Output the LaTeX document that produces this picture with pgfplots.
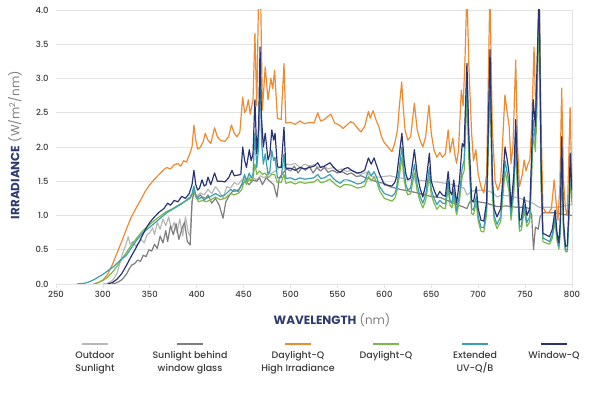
\documentclass[border=0pt]{standalone}
\usepackage{pgfplots}
\pgfplotsset{compat=1.18}
\usepackage{fontspec}
\setmainfont{Poppins}
\newfontfamily\medfont{Poppins Medium}
\definecolor{cOrange}{HTML}{EE8A2F}
\definecolor{cGreen}{HTML}{7DB94A}
\definecolor{cTeal}{HTML}{3A9FAE}
\definecolor{cNavy}{HTML}{2B3473}
\definecolor{cLGray}{HTML}{B8B8B8}
\definecolor{cDGray}{HTML}{7E7E7E}
\definecolor{cLabel}{HTML}{2E3B6E}
\definecolor{cGrid}{HTML}{E3E3E3}
\definecolor{cTick}{HTML}{3A3A3A}
\begin{document}
\begin{tikzpicture}
\begin{axis}[
  at={(0,0)}, anchor=south west,
  scale only axis, width=516bp, height=274bp,
  xmin=250, xmax=800, ymin=0, ymax=4,
  xtick={250,300,...,800}, ytick={0,0.5,...,4},
  /pgf/number format/assume math mode=true,
  yticklabel style={/pgf/number format/fixed,/pgf/number format/precision=1,/pgf/number format/fixed zerofill},
  ticklabel style={font=\medfont\fontsize{8.5}{10}\selectfont, text=cTick},
  axis line style={draw=none},
  ymajorgrids, major grid style={draw=cGrid, line width=0.8pt},
  xtick pos=left, tick align=outside, major tick length=4bp,
  x tick style={draw=cGrid, line width=0.8pt},
  y tick style={draw=none},
  extra x ticks={800}, extra x tick labels={},
  extra x tick style={grid=major, major grid style={draw=cGrid, line width=0.8pt}, tick style={draw=none}},
  xlabel={{\bfseries\color{cLabel}WAVELENGTH} {\color{gray}(nm)}},
  x label style={at={(axis description cs:0.535,-0.1314)}, anchor=center, font=\fontsize{12}{14}\selectfont},
  ylabel={{\bfseries\color{cLabel}IRRADIANCE} {\color{gray}(W/m\textsuperscript{2}/nm)}},
  y label style={at={(axis description cs:-0.0795,0.507)}, anchor=center, font=\fontsize{12}{14}\selectfont},
  every axis plot/.append style={line width=1.2pt, line join=round},
]
% Outdoor Sunlight
\addplot[cLGray] coordinates {
(300,0) (305,0.01) (310,0.05) (315,0.15) (318,0.3) (321,0.45) (324,0.55) (327,0.69) (329,0.58) (332,0.62) (335,0.55) (338,0.6) (341,0.65) (344,0.6) (347,0.72) (350,0.75) (353,0.82) (355,0.72) (358,0.9) (361,0.8) (364,0.95) (367,0.85) (370,0.98) (373,0.8) (376,0.9) (379,0.75) (382,0.95) (385,0.7) (388,0.98) (391,0.75) (393,0.7) (395,1.2) (397,1.35) (400,1.28) (404,1.33) (408,1.3) (412,1.38) (416,1.32) (420,1.42) (424,1.35) (428,1.25) (432,1.42) (436,1.4) (440,1.48) (444,1.45) (448,1.52) (452,1.55) (456,1.5) (460,1.55) (464,1.52) (468,1.58) (472,1.55) (476,1.6) (480,1.62) (484,1.65) (488,1.7) (492,1.72) (496,1.75) (500,1.74) (505,1.76) (510,1.7) (515,1.75) (520,1.72) (525,1.74) (530,1.7) (535,1.72) (540,1.68) (545,1.7) (550,1.66) (555,1.68) (560,1.64) (565,1.66) (570,1.62) (575,1.6) (580,1.63) (585,1.58) (590,1.56) (595,1.56) (600,1.57) (606,1.58) (612,1.56) (617,1.55) (625,1.52) (635,1.52) (649,1.5) (660,1.48) (670,1.46) (680,1.42) (685,1.4) (688,1.3) (691,1.33) (695,1.36) (702,1.37) (710,1.36) (716,1.33) (720,1.27) (725,1.3) (735,1.28) (745,1.25) (758,1.18) (765,1.12) (773,1.12) (785,1.12) (792,1.14) (800,1.16)
};
% Sunlight behind window glass
\addplot[cDGray] coordinates {
(310,0) (315,0.02) (320,0.06) (325,0.14) (328,0.22) (331,0.28) (334,0.3) (337,0.35) (340,0.33) (343,0.42) (346,0.4) (349,0.5) (352,0.48) (355,0.58) (358,0.52) (361,0.7) (364,0.6) (367,0.78) (369,0.62) (372,0.85) (375,0.72) (378,0.88) (381,0.65) (384,0.8) (387,0.9) (390,0.62) (393,0.57) (395,1.2) (397,1.35) (400,1.25) (404,1.3) (408,1.22) (412,1.3) (416,1.18) (420,1.25) (424,1.15) (428,0.96) (431,1.2) (435,1.3) (440,1.38) (444,1.35) (448,1.45) (452,1.5) (456,1.45) (460,1.52) (464,1.5) (467,1.55) (470,1.45) (474,1.55) (478,1.5) (482,1.45) (485.5,1.27) (488,1.55) (492,1.62) (496,1.68) (500,1.65) (504,1.72) (508,1.62) (512,1.7) (516,1.66) (520,1.72) (524,1.62) (528,1.7) (532,1.65) (536,1.7) (540,1.63) (545,1.66) (550,1.62) (555,1.64) (560,1.6) (565,1.62) (570,1.57) (575,1.58) (580,1.55) (585,1.53) (590,1.5) (595,1.48) (600,1.47) (606,1.42) (612,1.4) (617,1.38) (625,1.36) (635,1.33) (649,1.28) (660,1.26) (667,1.22) (677,1.16) (685,1.12) (688,1.1) (691,1.2) (700,1.2) (709,1.18) (720,1.13) (730,1.14) (741,1.12) (750,1.12) (755,1.1) (757,1.0) (759,0.5) (761,0.83) (764,0.8) (766,0.98) (769,1.04) (780,1.04) (790,1.02) (800,1.0)
};
% Daylight-Q High Irradiance
\addplot[cOrange] coordinates {
(290,0) (295,0.02) (300,0.06) (305,0.14) (310,0.28) (315,0.45) (320,0.62) (325,0.8) (330,0.97) (335,1.1) (340,1.22) (345,1.35) (350,1.45) (355,1.53) (360,1.6) (365,1.67) (368,1.7) (372,1.68) (376,1.74) (380,1.76) (383,1.72) (386,1.8) (389,1.78) (392,1.88) (395,2.0) (397,2.32) (399,2.1) (401,1.97) (404,2.0) (407,2.08) (409,2.2) (412,2.1) (415,2.05) (419,2.28) (422,2.15) (425,2.1) (430,2.08) (434,2.15) (437,2.32) (440,2.2) (443,2.15) (446,2.22) (449,2.73) (451,2.5) (453,2.55) (455,2.69) (457,2.48) (460,2.69) (462,3.66) (464,2.6) (466,4.3) (468,4.3) (470,2.54) (473,3.17) (476,2.69) (479,3.0) (481,2.85) (483,3.12) (486,2.42) (490,2.4) (493,3.22) (495,2.35) (500,2.36) (505,2.33) (510,2.38) (515,2.34) (520,2.36) (525,2.35) (529,2.5) (532,2.38) (536,2.4) (540,2.45) (543,2.48) (547,2.35) (552,2.32) (556,2.27) (560,2.32) (564,2.37) (567,2.35) (571,2.28) (575,2.22) (579,2.3) (583,2.52) (585,2.42) (588,2.53) (591,2.4) (594,2.3) (597,2.15) (600,2.06) (604,2.0) (608,1.93) (611,2.05) (614,2.25) (616,2.6) (618.5,2.95) (620,2.6) (622,2.25) (625,2.1) (628,2.15) (632,2.64) (635,2.25) (638,2.1) (641,2.0) (644,2.15) (647.5,2.61) (650,2.2) (653,1.95) (656,1.85) (659,1.92) (662,1.85) (665,1.9) (668,2.25) (670,1.92) (673,2.13) (675,1.9) (677,1.76) (679,1.95) (682,2.83) (684,2.6) (686,3.3) (688,4.3) (690,3.2) (693,2.2) (695,1.8) (697.5,1.96) (700,1.6) (703,1.42) (706,1.33) (709,1.6) (712.5,4.3) (715,2.3) (718,1.5) (721,1.37) (724,1.5) (728.5,2.76) (731,2.5) (733,2.3) (735,1.76) (737,2.0) (740,3.27) (742,2.0) (744,1.42) (747,1.6) (749,1.81) (751,1.65) (753,1.75) (755,1.81) (757,2.3) (759.5,3.46) (762,2.2) (765,4.3) (767,2.4) (769,1.12) (772,1.05) (775,1.04) (778,1.1) (781,1.52) (783,1.2) (785,0.93) (787,1.4) (789,2.86) (791,1.5) (793,1.1) (795,1.0) (798,2.58) (800,1.37)
};
% Daylight-Q
\addplot[cGreen] coordinates {
(290,0) (295,0.02) (300,0.05) (305,0.1) (310,0.17) (315,0.26) (320,0.36) (325,0.46) (330,0.56) (336,0.67) (342,0.77) (350,0.87) (356,0.94) (362,1.0) (368,1.06) (373,1.09) (379,1.14) (384,1.18) (389.5,1.22) (393,1.25) (395,1.3) (397,1.38) (399,1.27) (402,1.2) (406,1.22) (410,1.2) (415,1.23) (420,1.27) (425,1.23) (430,1.25) (436,1.32) (440,1.3) (445,1.33) (448,1.38) (451,1.52) (453,1.45) (456,1.55) (458,1.5) (460,1.55) (462,1.75) (464,1.6) (467,1.65) (470,1.6) (473,1.62) (476,1.55) (480,1.6) (483,1.6) (486,1.48) (490,1.48) (493,1.6) (495,1.47) (500,1.49) (505,1.46) (510,1.49) (515,1.47) (520,1.48) (525,1.49) (529,1.53) (532,1.48) (536,1.49) (542,1.53) (545,1.49) (549,1.44) (553,1.41) (557,1.45) (561,1.45) (565,1.44) (571,1.4) (575,1.41) (579,1.43) (583,1.57) (586,1.51) (589,1.56) (592,1.48) (595,1.36) (600,1.25) (604,1.23) (608,1.21) (611,1.25) (613,1.33) (616,1.58) (618.7,1.85) (621,1.53) (623,1.37) (625,1.3) (628,1.32) (632,1.62) (635,1.36) (638,1.21) (641,1.11) (644,1.22) (648,1.57) (650,1.3) (653,1.18) (656,1.09) (659,1.15) (662,1.11) (665,1.1) (668,1.39) (670,1.15) (672,1.11) (674,1.29) (676,1.08) (677,1.01) (680,1.21) (683,1.57) (685,1.65) (688,2.75) (690,1.83) (693,1.03) (695,1.01) (698,1.19) (700,0.92) (703,0.77) (706,0.76) (709,1.02) (712.6,2.9) (715,1.34) (717,0.93) (720,0.81) (724,0.91) (728.6,1.65) (731,1.49) (733,1.34) (735,0.93) (738,1.34) (740,2.0) (742,1.34) (744,0.77) (746,0.79) (749,1.07) (752,0.84) (755,0.91) (757,1.57) (758.6,2.2) (761,1.93) (765,3.9) (767,1.48) (769,0.62) (772,0.6) (776,0.58) (779,0.67) (782,0.91) (784,0.63) (786,0.51) (787.5,0.74) (789,1.8) (791,0.74) (793,0.47) (795,0.47) (797,1.02) (798,1.62) (800,1.16)
};
% Extended UV-Q/B
\addplot[cTeal] coordinates {
(272,0) (280,0.01) (285,0.03) (290,0.06) (295,0.1) (300,0.14) (305,0.19) (311,0.25) (318,0.34) (325,0.42) (330,0.52) (336,0.64) (342,0.74) (350,0.83) (356,0.9) (362,0.97) (368,1.04) (373,1.08) (379,1.13) (384,1.17) (389.5,1.23) (393,1.27) (395,1.32) (397,1.43) (399,1.3) (402,1.24) (406,1.27) (410,1.25) (415,1.28) (420,1.32) (425,1.28) (430,1.3) (436,1.38) (440,1.35) (445,1.38) (448,1.45) (451,1.6) (453,1.5) (456,1.62) (458,1.55) (460,1.6) (462,2.2) (464,1.7) (466,2.0) (467.5,3.3) (469,2.1) (471,1.75) (473,1.9) (476,1.6) (478,1.65) (480,1.95) (482,1.8) (483.5,1.85) (486,1.55) (490,1.55) (493,1.9) (495,1.54) (500,1.55) (505,1.52) (510,1.55) (515,1.53) (520,1.54) (525,1.55) (529,1.6) (532,1.54) (536,1.55) (542,1.6) (545,1.55) (549,1.5) (553,1.47) (557,1.52) (561,1.52) (565,1.5) (571,1.46) (575,1.47) (579,1.5) (583,1.65) (586,1.58) (589,1.64) (592,1.55) (595,1.42) (600,1.32) (604,1.3) (608,1.28) (611,1.32) (613,1.4) (616,1.7) (618.7,2.0) (621,1.65) (623,1.45) (625,1.37) (628,1.4) (632,1.75) (635,1.45) (638,1.28) (641,1.18) (644,1.3) (648,1.7) (650,1.38) (653,1.25) (656,1.16) (659,1.22) (662,1.18) (665,1.17) (668,1.5) (670,1.22) (672,1.18) (674,1.38) (676,1.15) (677,1.07) (680,1.3) (683,1.7) (685,1.8) (688,3.0) (690,2.0) (693,1.1) (695,1.08) (698,1.28) (700,0.98) (703,0.83) (706,0.82) (709,1.1) (712.6,3.2) (715,1.45) (717,1.0) (720,0.87) (724,0.98) (728.6,1.8) (731,1.62) (733,1.45) (735,1.0) (738,1.45) (740,2.2) (742,1.45) (744,0.83) (746,0.85) (749,1.15) (752,0.9) (755,0.98) (757,1.7) (758.6,2.4) (761,2.1) (765,4.3) (767,1.6) (769,0.67) (772,0.65) (776,0.62) (779,0.72) (782,0.98) (784,0.68) (786,0.55) (787.5,0.8) (789,1.95) (791,0.8) (793,0.5) (795,0.5) (797,1.1) (798,1.75) (800,1.25)
};
% Window-Q
\addplot[cNavy] coordinates {
(305,0) (310,0.02) (315,0.07) (320,0.15) (325,0.27) (330,0.4) (335,0.52) (340,0.65) (345,0.79) (350,0.9) (355,0.98) (360,1.05) (365,1.1) (369,1.18) (372,1.15) (376,1.22) (380,1.2) (384,1.28) (388,1.25) (392,1.32) (395,1.45) (397,1.66) (399,1.45) (401,1.37) (403,1.4) (405.6,1.52) (408,1.43) (410,1.45) (412,1.56) (415,1.45) (419,1.62) (422,1.5) (426,1.5) (430,1.49) (434,1.55) (437.6,1.66) (440,1.58) (444,1.59) (447,1.6) (449,2.0) (451,1.81) (453,1.7) (456,1.96) (458,1.8) (460,1.9) (462,2.69) (464,1.9) (466,2.3) (467.5,3.46) (469,2.44) (471,2.0) (473,2.2) (476,1.81) (478,1.9) (480,2.25) (482,2.1) (483.5,2.2) (486,1.71) (490,1.7) (493,2.29) (495,1.69) (500,1.69) (505,1.66) (510,1.7) (515,1.68) (520,1.7) (525,1.72) (529,1.77) (532,1.7) (536,1.72) (542,1.77) (545,1.72) (549,1.66) (553,1.63) (557,1.68) (561,1.7) (565,1.66) (571,1.62) (575,1.63) (579,1.66) (583,1.84) (586,1.75) (589,1.84) (592,1.72) (595,1.6) (600,1.45) (604,1.44) (608,1.43) (611,1.48) (613,1.56) (616,1.9) (618.7,2.2) (621,1.81) (623,1.6) (625,1.52) (628,1.55) (632,1.96) (635,1.6) (638,1.4) (641,1.27) (644,1.45) (648,1.91) (650,1.5) (653,1.37) (656,1.27) (659,1.35) (662,1.3) (665,1.28) (668,1.64) (670,1.35) (672,1.3) (674,1.52) (676,1.28) (677,1.18) (680,1.5) (683,2.05) (685,2.0) (688,3.22) (690,2.2) (693,1.23) (695,1.2) (698,1.42) (700,1.1) (703,0.93) (706,0.92) (709,1.2) (712.6,3.42) (715,1.6) (717,1.1) (720,0.98) (724,1.1) (728.6,2.0) (731,1.81) (733,1.6) (735,1.12) (738,1.6) (740,2.4) (742,1.6) (744,0.93) (746,0.95) (749,1.27) (752,1.0) (755,1.1) (757,1.9) (758.6,2.69) (761,2.3) (765,4.3) (767,1.8) (769,0.74) (772,0.72) (776,0.69) (779,0.8) (782,1.08) (784,0.75) (786,0.6) (787.5,0.9) (789,2.15) (791,0.9) (793,0.55) (795,0.56) (797,1.2) (798,1.91) (800,1.37)
};
\end{axis}
% legend
\begin{scope}[every node/.style={font=\medfont\fontsize{9.5}{13.5}\selectfont, text=cTick, align=center, anchor=north, inner sep=0pt}]
\foreach \xx/\cc/\tt in {39/cLGray/{Outdoor\\Sunlight}, 134/cDGray/{Sunlight behind\\window glass}, 242/cOrange/{Daylight-Q\\High Irradiance}, 330/cGreen/{Daylight-Q}, 419/cTeal/{Extended\\UV-Q/B}, 498/cNavy/{Window-Q}} {
  \draw[\cc, line width=2.4pt] (\xx bp-13bp,-60bp) -- (\xx bp+13bp,-60bp);
  \node at (\xx bp,-67bp) {\tt};
}
\end{scope}
\pgfresetboundingbox
\path (-56bp,-112bp) rectangle (552bp,284bp);
\end{tikzpicture}
\end{document}
